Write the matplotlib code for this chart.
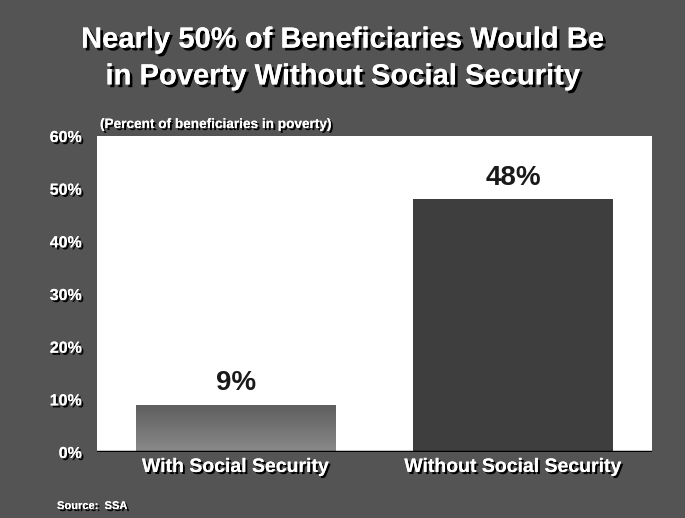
import matplotlib
matplotlib.use("Agg")
import matplotlib.pyplot as plt
import matplotlib.patheffects as pe
import numpy as np

categories = ["With Social Security", "Without Social Security"]
values = [9, 48]
value_labels = ["9%", "48%"]
yticks = [0, 10, 20, 30, 40, 50, 60]
ytick_labels = ["0%", "10%", "20%", "30%", "40%", "50%", "60%"]
title = "Nearly 50% of Beneficiaries Would Be\nin Poverty Without Social Security"
subtitle = "(Percent of beneficiaries in poverty)"
source = "Source:  SSA"

plt.rcParams['font.family'] = ['Liberation Sans', 'DejaVu Sans']

fig = plt.figure(figsize=(6.85, 5.18), dpi=100, facecolor="#545454")
ax = fig.add_axes([97/685, 66/518, 555/685, 316/518])
ax.set_facecolor("white")

text_shadow = [pe.withSimplePatchShadow(offset=(1.5, -1.5), shadow_rgbFace="black", alpha=1.0), pe.Normal()]

x = np.arange(len(categories))
bars = ax.bar(x, values, width=0.72, color=["#7a7a7a", "#3e3e3e"], zorder=2)

# gradient on first bar
b = bars[0]
grad = np.linspace(0, 1, 100).reshape(-1, 1)
im = ax.imshow(grad, cmap=matplotlib.colors.LinearSegmentedColormap.from_list("g", ["#8a8a8a", "#5e5e5e"]),
               extent=[b.get_x(), b.get_x() + b.get_width(), 0, b.get_height()],
               aspect="auto", origin="lower", zorder=3)
im.set_clip_path(b)

ax.set_xlim(-0.5, 1.5)
ax.set_ylim(0, 60)
ax.axhline(0, color="black", lw=2.5, zorder=4)

for xi, v, lab in zip(x, values, value_labels):
    ax.text(xi, v + 1.6, lab, ha="center", va="bottom", fontsize=20, fontweight="bold", color="#1a1a1a", zorder=5)

ax.set_yticks(yticks)
ax.set_yticklabels(ytick_labels, fontsize=11.5, fontweight="bold", color="white")
ax.set_xticks(x)
ax.set_xticklabels(categories, fontsize=14, fontweight="bold", color="white")
for t in ax.get_xticklabels() + ax.get_yticklabels():
    t.set_path_effects(text_shadow)
ax.tick_params(axis="both", length=0)
ax.tick_params(axis="y", pad=11)
ax.tick_params(axis="x", pad=5)
for s in ax.spines.values():
    s.set_visible(False)

fig.text(0.5, 0.888, title, ha="center", va="center", fontsize=21, fontweight="bold", color="white",
         linespacing=1.4, path_effects=[pe.withSimplePatchShadow(offset=(2, -2), shadow_rgbFace="black", alpha=1.0), pe.Normal()])
fig.text(100/685, 1 - 124/518, subtitle, ha="left", va="center", fontsize=9.8, fontweight="bold", color="white",
         path_effects=text_shadow)
fig.text(57/685, 1 - 506/518, source, ha="left", va="center", fontsize=8, fontweight="bold", color="white",
         path_effects=text_shadow)

fig.savefig("out.png", dpi=100, facecolor=fig.get_facecolor())
